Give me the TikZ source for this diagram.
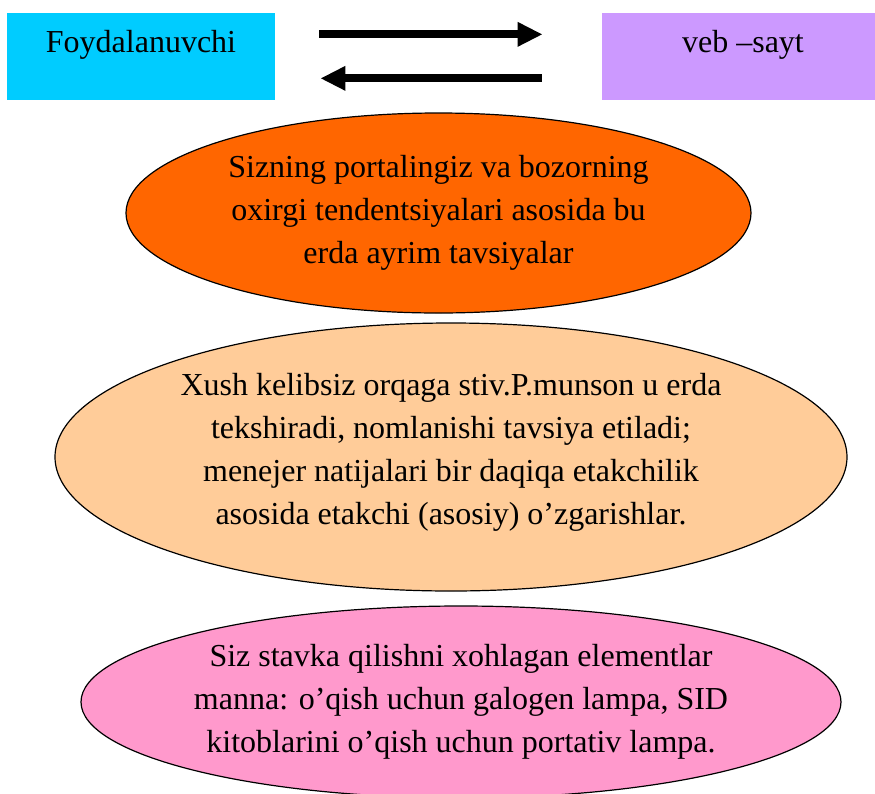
\documentclass[tikz,border=0pt]{standalone}
\usepackage{fontspec}
\setmainfont{Liberation Serif}
\usetikzlibrary{positioning, shapes.geometric, arrows.meta}

\definecolor{userbox}{HTML}{00CCFF}
\definecolor{sitebox}{HTML}{CC99FF}
\definecolor{advice}{HTML}{FF6600}
\definecolor{welcome}{HTML}{FFCC99}
\definecolor{items}{HTML}{FF99CC}

\begin{document}
\begin{tikzpicture}[x=0.5pt, y=-0.5pt,
    font=\fontsize{16}{21.5}\selectfont,
    topbox/.style={rectangle, minimum height=43.75pt, inner sep=0pt,
        text height=11pt, text depth=15.5pt},
    oval/.style={ellipse, draw=black, line width=0.6pt, inner sep=0pt, align=center},
    flow/.style={line width=4pt, -{Triangle[length=12.5pt, width=11.5pt]}}]
    \useasboundingbox (0,0) rectangle (875,794);

    % Top row: user and web site
    \node[topbox, fill=userbox, minimum width=134pt] (user) at (141,56.5) {Foydalanuvchi};
    \node[topbox, fill=sitebox, minimum width=141pt] (site) at (743,56.5) {veb –sayt};

    % Request / response arrows
    \draw[flow] ([xshift=22pt, yshift=-11pt]user.north east)
        -- ([xshift=-29.5pt, yshift=-11pt]site.north west);
    \draw[flow] ([xshift=-30pt, yshift=-33pt]site.north west)
        -- ([xshift=22.5pt, yshift=-33pt]user.north east);

    % Ellipses
    \node[oval, fill=advice, minimum width=312.5pt, minimum height=100pt] (tips) at (438.5,213)
        {Sizning portalingiz va bozorning\\oxirgi tendentsiyalari asosida bu\\erda ayrim tavsiyalar};
    \node[oval, fill=welcome, minimum width=396pt, minimum height=134pt, text depth=8.5pt] (back) at (451,457)
        {Xush kelibsiz orqaga stiv.P.munson u erda\\tekshiradi, nomlanishi tavsiya etiladi;\\menejer natijalari bir daqiqa etakchilik\\asosida etakchi (asosiy) o’zgarishlar.};
    \node[oval, fill=items, minimum width=380pt, minimum height=96pt] (lamps) at (461,702)
        {Siz stavka qilishni xohlagan elementlar\\manna: o’qish uchun galogen lampa, SID\\kitoblarini o’qish uchun portativ lampa.};
\end{tikzpicture}
\end{document}
